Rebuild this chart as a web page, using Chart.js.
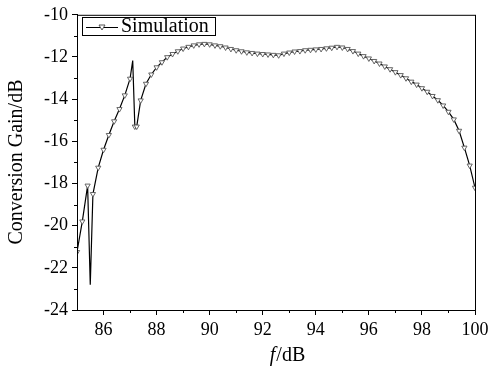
<!DOCTYPE html>
<html>
<head>
<meta charset="utf-8">
<script src="https://cdn.jsdelivr.net/npm/chart.js@4/dist/chart.umd.min.js"></script>
<style>
  html, body { margin: 0; padding: 0; background: #fff; }
  #wrap { width: 494px; height: 376px; }
</style>
</head>
<body>
<div id="wrap"><canvas id="gainChart" width="494" height="376"></canvas></div>
<script>
// ====== Data ======
const freq = [
  85.0, 85.2, 85.4, 85.5, 85.6, 85.8, 86.0, 86.2, 86.4, 86.6, 86.8, 87.0, 87.1, 87.18, 87.25,
  87.4, 87.6, 87.8, 88.0, 88.2, 88.4, 88.6, 88.8, 89.0, 89.2, 89.4, 89.6, 89.8, 90.0,
  90.2, 90.4, 90.6, 90.8, 91.0, 91.2, 91.4, 91.6, 91.8, 92.0, 92.2, 92.4, 92.6, 92.8,
  93.0, 93.2, 93.4, 93.6, 93.8, 94.0, 94.2, 94.4, 94.6, 94.8, 95.0, 95.2, 95.4, 95.6,
  95.8, 96.0, 96.2, 96.4, 96.6, 96.8, 97.0, 97.2, 97.4, 97.6, 97.8, 98.0, 98.2, 98.4,
  98.6, 98.8, 99.0, 99.2, 99.4, 99.6, 99.8, 100.0
];
const gain = [
  -21.25, -19.8, -18.1, -22.8, -18.5, -17.25, -16.4, -15.7, -15.05, -14.47, -13.82, -13.03, -12.17, -15.3, -15.3,
  -14.06, -13.27, -12.83, -12.49, -12.25, -12.01, -11.86, -11.73, -11.6, -11.52, -11.45, -11.4, -11.38, -11.4,
  -11.45, -11.49, -11.55, -11.62, -11.68, -11.73, -11.78, -11.81, -11.84, -11.86, -11.88, -11.9, -11.92, -11.84,
  -11.79, -11.74, -11.72, -11.68, -11.66, -11.64, -11.62, -11.59, -11.56, -11.52, -11.55, -11.62, -11.72, -11.84,
  -11.96, -12.07, -12.19, -12.31, -12.45, -12.58, -12.72, -12.86, -13.01, -13.17, -13.31, -13.48, -13.65, -13.85,
  -14.05, -14.3, -14.6, -14.96, -15.5, -16.3, -17.15, -18.2
];
// spike points drawn without a marker
const spikeFreq = [85.5, 87.1];

const xTicks = [86, 88, 90, 92, 94, 96, 98, 100];
const yTicks = [-24, -22, -20, -18, -16, -14, -12, -10];
const xMinor = [87, 89, 91, 93, 95, 97, 99];
const yMinor = [-23, -21, -19, -17, -15, -13, -11];

const seriesName = "Simulation";
const xTitleItalic = "f";
const xTitleRest = "/dB";
const yTitle = "Conversion Gain/dB";

const FONT = "'Liberation Serif', 'Times New Roman', serif";

const points = freq.map((f, i) => ({ x: f, y: gain[i] }));

// ====== Frame, minor ticks, titles, legend ======
const decorPlugin = {
  id: "decor",
  afterDraw(chart) {
    const { ctx, chartArea: a, scales } = chart;
    ctx.save();
    ctx.strokeStyle = "#000";
    ctx.lineWidth = 1;
    ctx.strokeRect(a.left + 0.5, a.top + 0.5, a.right - a.left, a.bottom - a.top);

    // minor ticks
    ctx.beginPath();
    xMinor.forEach((v) => {
      const px = Math.round(scales.x.getPixelForValue(v)) + 0.5;
      ctx.moveTo(px, a.bottom);
      ctx.lineTo(px, a.bottom + 3);
    });
    yMinor.forEach((v) => {
      const py = Math.round(scales.y.getPixelForValue(v)) + 0.5;
      ctx.moveTo(a.left, py);
      ctx.lineTo(a.left - 3, py);
    });
    ctx.stroke();

    // axis titles
    ctx.fillStyle = "#000";
    ctx.textBaseline = "middle";
    ctx.font = "italic 20px " + FONT;
    const w1 = ctx.measureText(xTitleItalic).width;
    ctx.font = "20px " + FONT;
    const w2 = ctx.measureText(xTitleRest).width;
    const cx = 287;
    let sx = cx - (w1 + w2) / 2;
    ctx.textAlign = "left";
    ctx.font = "italic 20px " + FONT;
    ctx.fillText(xTitleItalic, sx, 356);
    ctx.font = "20px " + FONT;
    ctx.fillText(xTitleRest, sx + w1 + 1, 356);

    ctx.save();
    ctx.translate(17, 162);
    ctx.rotate(-Math.PI / 2);
    ctx.textAlign = "center";
    ctx.fillText(yTitle, 0, 0);
    ctx.restore();

    // legend box
    ctx.strokeRect(82.5, 17.5, 133, 18);
    ctx.beginPath();
    ctx.moveTo(86, 27.5);
    ctx.lineTo(118, 27.5);
    ctx.stroke();
    ctx.beginPath();
    ctx.moveTo(99, 25);
    ctx.lineTo(105, 25);
    ctx.lineTo(102, 30);
    ctx.closePath();
    ctx.fillStyle = "#fff";
    ctx.fill();
    ctx.strokeStyle = "#555";
    ctx.stroke();
    ctx.fillStyle = "#000";
    ctx.textAlign = "left";
    ctx.font = "20px " + FONT;
    ctx.fillText(seriesName, 121, 27);
    ctx.restore();
  },
};

// ====== Chart Setup ======
const chartCtx = document.getElementById("gainChart").getContext("2d");

new Chart(chartCtx, {
  type: "scatter",
  data: {
    datasets: [
      {
        label: seriesName,
        data: points,
        showLine: true,
        borderColor: "#000",
        borderWidth: 1.2,
        pointStyle: "triangle",
        rotation: 180,
        pointRadius: (c) => (c.raw && spikeFreq.includes(c.raw.x) ? 0 : 3),
        pointBackgroundColor: "#fff",
        pointBorderColor: "#555",
        pointBorderWidth: 0.9,
      },
    ],
  },
  options: {
    responsive: false,
    animation: false,
    events: [],
    layout: { padding: { top: 14, right: 19, left: 0, bottom: 0 } },
    plugins: { legend: { display: false }, tooltip: { enabled: false } },
    scales: {
      x: {
        type: "linear",
        min: 85,
        max: 100,
        afterBuildTicks: (s) => { s.ticks = xTicks.map((v) => ({ value: v })); },
        afterFit: (s) => { s.height = 66; },
        grid: { drawOnChartArea: false, tickLength: 5, color: "#000" },
        border: { color: "#000", width: 1 },
        ticks: { color: "#000", padding: 4, maxRotation: 0, font: { family: FONT, size: 18 } },
      },
      y: {
        min: -24,
        max: -10,
        afterBuildTicks: (s) => { s.ticks = yTicks.map((v) => ({ value: v })); },
        afterFit: (s) => { s.width = 77; },
        grid: { drawOnChartArea: false, tickLength: 5, color: "#000" },
        border: { color: "#000", width: 1 },
        ticks: { color: "#000", padding: 4, font: { family: FONT, size: 18 } },
      },
    },
  },
  plugins: [decorPlugin],
});
</script>
</body>
</html>
